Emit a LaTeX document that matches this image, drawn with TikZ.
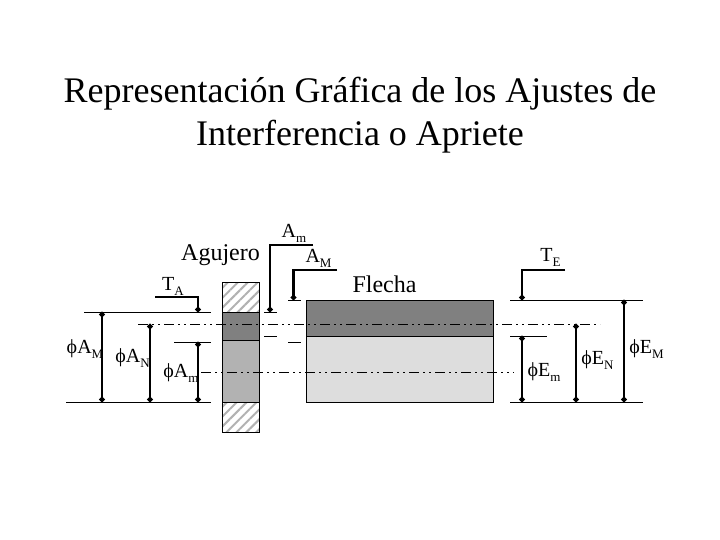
\documentclass[tikz,border=0pt]{standalone}
\usepackage{fontspec}
\setmainfont{Liberation Serif}
\usetikzlibrary{arrows.meta,patterns.meta}
\definecolor{darkpart}{HTML}{808080}
\definecolor{midpart}{HTML}{B2B2B2}
\definecolor{lightpart}{HTML}{DDDDDD}
\newcommand{\subidx}[2]{#1\raisebox{-0.55ex}{\fontsize{13}{13}\selectfont #2}}
\newcommand{\diam}[2]{{\fontsize{20}{20}\selectfont ϕ\subidx{#1}{#2}}}
\begin{document}
\begin{tikzpicture}[x=1pt,y=-1pt]
\tikzstyle{part} = [draw, line width=0.9pt, anchor=north west, inner sep=0pt, outer sep=0pt]
\tikzstyle{hatched} = [part, pattern={Lines[angle=45,distance=7pt,line width=2pt]}, pattern color=midpart]
\tikzstyle{label} = [inner sep=0pt, font=\fontsize{20}{20}\selectfont]
\tikzstyle{refline} = [line width=0.9pt]
\tikzstyle{axisline} = [line width=1pt, dash pattern=on 10pt off 4pt on 2pt off 4pt on 2pt off 4pt]
\tikzstyle{dimline} = [line width=2.6pt, {Circle[length=5pt]}-{Circle[length=5pt]}]
\tikzstyle{leader} = [line width=2.6pt, -{Circle[length=5pt]}]

\useasboundingbox (0,0) rectangle (720,540);
\fill[white] (0,0) rectangle (720,540);

\node (title) [align=center, font=\fontsize{36}{43}\selectfont] at (360,115.5) {Representación Gráfica de los Ajustes de\\Interferencia o Apriete};

% agujero
\node (holetop) [hatched, minimum width=37pt, minimum height=30pt] at (222,282) {};
\node (holedark) [part, fill=darkpart, minimum width=37pt, minimum height=28pt] at (222,312) {};
\node (holemid) [part, fill=midpart, minimum width=37pt, minimum height=62pt] at (222,340) {};
\node (holebot) [hatched, minimum width=37pt, minimum height=30pt] at (222,402) {};

% flecha
\node (shaftdark) [part, fill=darkpart, minimum width=187pt, minimum height=36pt] at (306,300) {};
\node (shaftlight) [part, fill=lightpart, minimum width=187pt, minimum height=66pt] at (306,336) {};

% lineas de eje
\coordinate (axisNa) at (138,324);
\coordinate (axisNb) at (600,324);
\coordinate (axisCa) at (201,372);
\coordinate (axisCb) at (514,372);
\draw [axisline] (axisNa) -- (axisNb);
\draw [axisline] (axisCa) -- (axisCb);

% referencias agujero
\coordinate (holeMa) at (84,312);
\coordinate (holeMb) at (211,312);
\coordinate (holeBa) at (66,402);
\coordinate (holeBb) at (211,402);
\coordinate (holema) at (174,342);
\coordinate (holemb) at (211,342);
\draw [refline] (holeMa) -- (holeMb);
\draw [refline] (holeBa) -- (holeBb);
\draw [refline] (holema) -- (holemb);

\coordinate (tickAa) at (264,312);
\coordinate (tickAb) at (277,312);
\coordinate (tickBa) at (264,336);
\coordinate (tickBb) at (277,336);
\coordinate (tickCa) at (288,300);
\coordinate (tickCb) at (301,300);
\coordinate (tickDa) at (288,342);
\coordinate (tickDb) at (301,342);
\draw [refline] (tickAa) -- (tickAb);
\draw [refline] (tickBa) -- (tickBb);
\draw [refline] (tickCa) -- (tickCb);
\draw [refline] (tickDa) -- (tickDb);

% referencias flecha
\coordinate (shaftMa) at (510,300);
\coordinate (shaftMb) at (643,300);
\coordinate (shaftBa) at (510,402);
\coordinate (shaftBb) at (643,402);
\coordinate (shaftma) at (510,336);
\coordinate (shaftmb) at (547,336);
\draw [refline] (shaftMa) -- (shaftMb);
\draw [refline] (shaftBa) -- (shaftBb);
\draw [refline] (shaftma) -- (shaftmb);

% cotas
\coordinate (dAMa) at (102,312);
\coordinate (dAMb) at (102,402);
\coordinate (dANa) at (150,324);
\coordinate (dANb) at (150,402);
\coordinate (dAma) at (198,342);
\coordinate (dAmb) at (198,402);
\coordinate (dEma) at (522,336);
\coordinate (dEmb) at (522,402);
\coordinate (dENa) at (576,324);
\coordinate (dENb) at (576,402);
\coordinate (dEMa) at (624,300);
\coordinate (dEMb) at (624,402);
\draw [dimline] (dAMa) -- (dAMb);
\draw [dimline] (dANa) -- (dANb);
\draw [dimline] (dAma) -- (dAmb);
\draw [dimline] (dEma) -- (dEmb);
\draw [dimline] (dENa) -- (dENb);
\draw [dimline] (dEMa) -- (dEMb);

% lideres
\coordinate (leadTA) at (155,297);
\coordinate (endTA) at (198,312);
\coordinate (leadAm) at (313,245);
\coordinate (endAm) at (270,312);
\coordinate (leadAM) at (337,270);
\coordinate (endAM) at (293.5,300);
\coordinate (leadTE) at (565,270);
\coordinate (endTE) at (522,300);
\draw [leader] (leadTA) -| (endTA);
\draw [leader] (leadAm) -| (endAm);
\draw [leader] (leadAM) -| (endAM);
\draw [leader] (leadTE) -| (endTE);

% textos
\node (agujero) [label, font=\fontsize{24}{24}\selectfont] at (220.5,255) {Agujero};
\node (flecha) [label, font=\fontsize{24}{24}\selectfont] at (384.5,284) {Flecha};
\node (tA) [label] at (173,286.5) {\subidx{T}{A}};
\node (tE) [label] at (550.5,257.5) {\subidx{T}{E}};
\node (aM) [label] at (318.5,258.5) {\subidx{A}{M}};
\node (am) [label] at (294,233.5) {\subidx{A}{m}};
\node (phiAM) [label] at (85,349) {\diam{A}{M}};
\node (phiAN) [label] at (132.5,358) {\diam{A}{N}};
\node (phiAm) [label] at (181,373) {\diam{A}{m}};
\node (phiEm) [label] at (544,372) {\diam{E}{m}};
\node (phiEN) [label] at (597.5,360) {\diam{E}{N}};
\node (phiEM) [label] at (646.5,349) {\diam{E}{M}};
\end{tikzpicture}
\end{document}
